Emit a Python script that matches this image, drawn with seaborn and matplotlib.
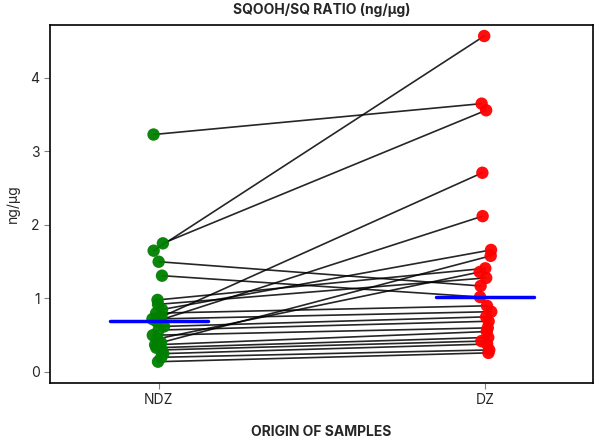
import numpy as np
import pandas as pd
import seaborn as sns
import matplotlib.pyplot as plt

# paired samples: value at NDZ and at DZ for the same sample
ndz = [3.23, 1.75, 1.65, 1.50, 1.31, 0.98, 0.92, 0.85, 0.80, 0.75, 0.72, 0.69,
       0.62, 0.57, 0.50, 0.45, 0.40, 0.37, 0.33, 0.30, 0.25, 0.20, 0.14]
dz = [3.65, 3.56, 4.57, 1.17, 1.02, 1.41, 1.28, 1.66, 0.90, 2.71, 0.82, 2.12,
      0.75, 0.69, 0.60, 1.36, 1.58, 0.55, 0.47, 0.42, 0.38, 0.30, 0.26]
origins = ["NDZ", "DZ"]
colors = {"NDZ": "green", "DZ": "red"}

sns.set_style("white")
plt.rcParams["font.family"] = ["Inter", "DejaVu Sans"]

n = len(ndz)
rng = np.random.default_rng(3)
rows = []
for i in range(n):
    for k, (org, val) in enumerate(zip(origins, [ndz[i], dz[i]])):
        rows.append({"pair": i, "origin": org, "value": val,
                     "x": k + rng.uniform(-0.02, 0.02)})
df = pd.DataFrame(rows)

fig = plt.figure(figsize=(5.97, 4.43), dpi=100)
ax = fig.add_axes([0.0838, 0.1354, 0.9095, 0.8082])

sns.lineplot(data=df, x="x", y="value", units="pair", estimator=None,
             color="black", alpha=0.85, linewidth=1.2, ax=ax, legend=False)
sns.scatterplot(data=df, x="x", y="value", hue="origin", palette=colors,
                s=80, edgecolor="none", alpha=0.95, ax=ax, legend=False, zorder=3)

# median lines
for k, org in enumerate(origins):
    med = df.loc[df["origin"] == org, "value"].median()
    ax.plot([k - 0.15, k + 0.15], [med, med], color="blue", linewidth=2.5, zorder=4)

ax.set_xlim(-0.334, 1.331)
ax.set_ylim(-0.15, 4.72)
ax.set_xticks([0, 1])
ax.set_xticklabels(origins)
ax.set_yticks([0, 1, 2, 3, 4])
ax.tick_params(axis="both", length=4, color="gray", labelsize=10, bottom=True, left=True)
for s in ax.spines.values():
    s.set_color("black")
    s.set_linewidth(1.2)

ax.set_title("SQOOH/SQ RATIO (ng/µg)", fontweight="bold", fontsize=10, pad=8)
ax.set_xlabel("ORIGIN OF SAMPLES", fontweight="bold", fontsize=10, labelpad=13)
ax.set_ylabel("ng/µg", fontsize=10, labelpad=8)

fig.savefig("out.png", dpi=100)
